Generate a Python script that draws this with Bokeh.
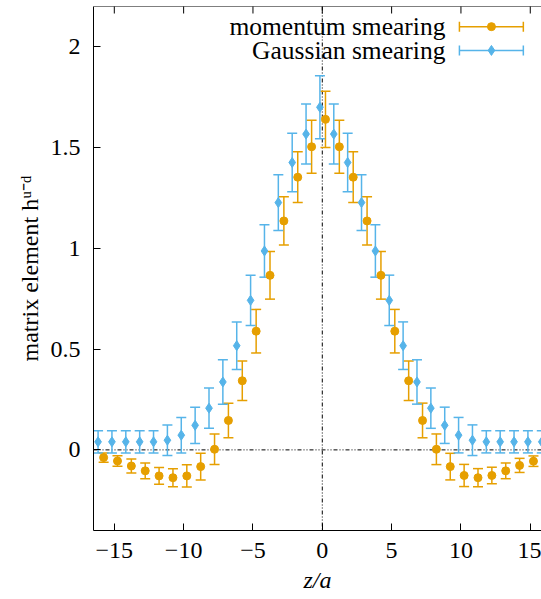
import math
from bokeh.plotting import figure
from bokeh.models import (Whisker, TeeHead, Span, Label, Arrow,
                          FixedTicker, ColumnDataSource, Range1d)
from bokeh.embed import file_html
from bokeh.resources import INLINE

# ---------------- data ----------------
z = list(range(-16, 17))

mom_y = [-0.038, -0.055, -0.080, -0.104, -0.129, -0.138, -0.129, -0.083, 0.003,
         0.146, 0.343, 0.589, 0.866, 1.136, 1.353, 1.504, 1.640,
         1.504, 1.353, 1.136, 0.866, 0.589, 0.343, 0.146, 0.003,
         -0.083, -0.127, -0.138, -0.127, -0.104, -0.077, -0.056, -0.038]
mom_err = [0.023, 0.026, 0.035, 0.039, 0.041, 0.045, 0.055, 0.066, 0.076,
           0.086, 0.098, 0.108, 0.118, 0.120, 0.126, 0.131, 0.139,
           0.131, 0.126, 0.120, 0.118, 0.108, 0.098, 0.086, 0.076,
           0.066, 0.055, 0.045, 0.041, 0.039, 0.035, 0.026, 0.023]

gauss_y = [0.040, 0.040, 0.040, 0.040, 0.040, 0.048, 0.073, 0.122, 0.207,
           0.337, 0.517, 0.742, 0.987, 1.227, 1.426, 1.567, 1.700,
           1.567, 1.426, 1.227, 0.987, 0.742, 0.517, 0.337, 0.207,
           0.122, 0.073, 0.048, 0.040, 0.040, 0.040, 0.040, 0.040]
gauss_err = [0.055, 0.055, 0.055, 0.055, 0.055, 0.076, 0.088, 0.090, 0.100,
             0.110, 0.118, 0.125, 0.130, 0.138, 0.145, 0.149, 0.156,
             0.149, 0.145, 0.138, 0.130, 0.125, 0.118, 0.110, 0.100,
             0.090, 0.088, 0.076, 0.055, 0.055, 0.055, 0.055, 0.055]

series_names = ["momentum smearing", "Gaussian smearing"]
x_ticks = [-15, -10, -5, 0, 5, 10, 15]
x_tick_labels = ["\u221215", "\u221210", "\u22125", "0", "5", "10", "15"]
y_ticks = [0, 0.5, 1, 1.5, 2]
y_tick_labels = ["0", "0.5", "1", "1.5", "2"]

# ---------------- style / layout ----------------
ORANGE = "#E69F00"
BLUE = "#56B4E9"
FONT = "Liberation Serif"
FS = "24px"
LEG_FS = "25.5px"
X_MIN, X_MAX = -16.5, 15.81
Y_MIN, Y_MAX = -0.4, 2.2
MOM_SHIFT = 0.23
GAUSS_SHIFT = -0.17
LEG_TEXT_X = 8.88
LEG_SYM_X0, LEG_SYM_X1, LEG_SYM_XC = 9.89, 14.5, 12.2
LEG_ROW_Y = [2.100, 1.982]

p = figure(width=541, height=599, output_backend="svg", toolbar_location=None,
           x_range=Range1d(X_MIN, X_MAX), y_range=Range1d(Y_MIN, Y_MAX),
           min_border_left=93, min_border_right=0, min_border_top=6,
           min_border_bottom=69)
p.background_fill_color = "white"
p.border_fill_color = "white"
p.outline_line_color = None
p.xgrid.visible = False
p.ygrid.visible = False

def src(shift, y, err):
    return ColumnDataSource(dict(
        x=[v + shift for v in z], y=y,
        lo=[a - b for a, b in zip(y, err)],
        hi=[a + b for a, b in zip(y, err)]))

# zero lines (dotted)
for dim in ["height", "width"]:
    p.add_layout(Span(location=0, dimension=dim, line_color="black",
                      line_width=1, line_dash="4 2 1 2 1 2", level="underlay"))

for s, color, marker, size in [(src(MOM_SHIFT, mom_y, mom_err), ORANGE, "circle", 8),
                               (src(GAUSS_SHIFT, gauss_y, gauss_err), BLUE, "diamond", 10)]:
    w = Whisker(base="x", lower="lo", upper="hi", source=s, dimension="height",
                line_color=color, line_width=1.5,
                upper_head=TeeHead(size=10, line_color=color, line_width=1.5),
                lower_head=TeeHead(size=10, line_color=color, line_width=1.5))
    p.add_layout(w)
    p.scatter("x", "y", source=s, marker=marker, size=size,
              fill_color=color, line_color=color)

# legend (manual: text left of an error-bar symbol)
for name, color, marker, size, yy in zip(series_names, [ORANGE, BLUE],
                                         ["circle", "diamond"], [8, 10], LEG_ROW_Y):
    p.add_layout(Label(x=LEG_TEXT_X, y=yy, text=name, text_align="right",
                       text_baseline="middle", text_font=FONT,
                       text_font_size=LEG_FS, text_color="black"))
    p.add_layout(Arrow(x_start=LEG_SYM_X0, y_start=yy, x_end=LEG_SYM_X1, y_end=yy,
                       line_color=color, line_width=1.5,
                       start=TeeHead(size=10, line_color=color, line_width=1.5),
                       end=TeeHead(size=10, line_color=color, line_width=1.5)))
    p.scatter(x=[LEG_SYM_XC], y=[yy], marker=marker, size=size,
              fill_color=color, line_color=color)

# top border with inward ticks (no labels)
p.add_layout(Span(location=Y_MAX, dimension="width", line_color="black", line_width=1))
p.scatter(x=x_ticks, y=[Y_MAX] * len(x_ticks), marker="dash", size=14,
          angle=math.pi / 2, line_color="black", line_width=1)

# axes
def style_axis(ax):
    ax.axis_line_color = "black"
    ax.axis_line_width = 1
    ax.major_tick_line_color = "black"
    ax.major_tick_in = 7
    ax.major_tick_out = 0
    ax.minor_tick_line_color = None
    ax.major_label_text_font = FONT
    ax.major_label_text_font_size = FS
    ax.major_label_text_color = "black"
    ax.axis_label_text_font = FONT
    ax.axis_label_text_font_size = FS
    ax.axis_label_text_color = "black"

xa = p.xaxis[0]
style_axis(xa)
xa.ticker = FixedTicker(ticks=x_ticks)
xa.major_label_overrides = dict(zip(x_ticks, x_tick_labels))
xa.axis_label = "z/a"
xa.axis_label_text_font_style = "italic"
xa.major_label_standoff = 12
xa.axis_label_standoff = 6

ya = p.yaxis[0]
style_axis(ya)
ya.ticker = FixedTicker(ticks=y_ticks)
ya.major_label_overrides = dict(zip(y_ticks, y_tick_labels))
ya.axis_label = "matrix element h\u1d58\u207b\u1d48"
ya.axis_label_text_font_style = "normal"
ya.major_label_standoff = 13
ya.axis_label_standoff = 5

open("out.html", "w").write(file_html(p, INLINE))
